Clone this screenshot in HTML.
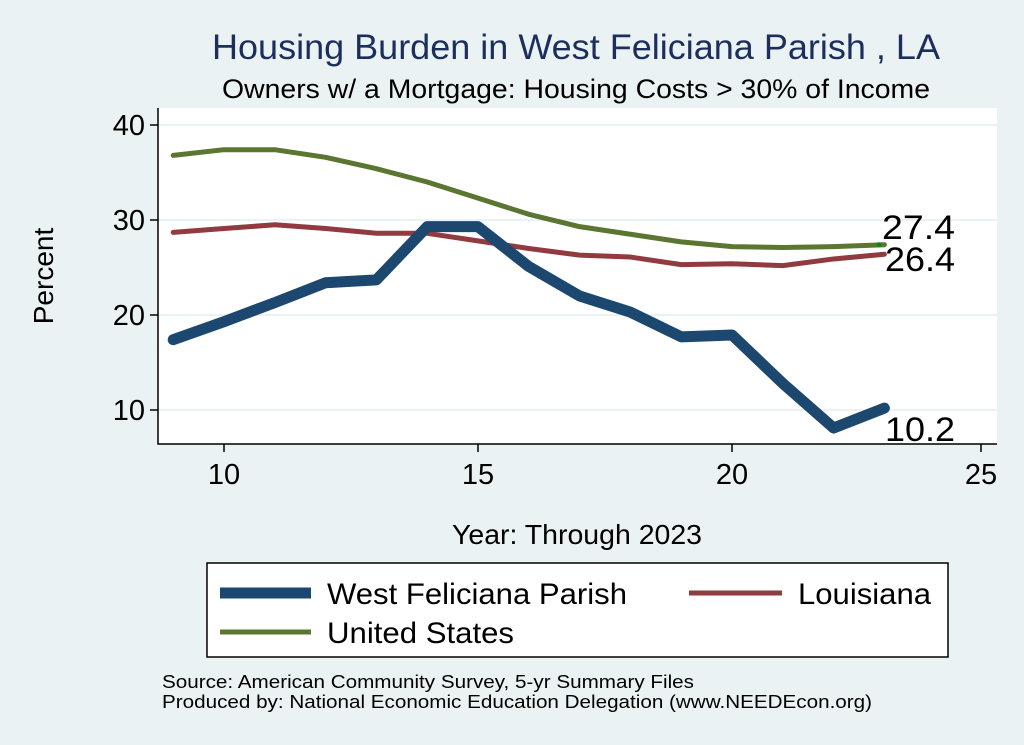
<!DOCTYPE html><html><head><style>body{margin:0;background:#eaf2f3}svg{display:block}text{font-family:"Liberation Sans",sans-serif}</style></head><body>
<svg width="1024" height="745" viewBox="0 0 1024 745">
<rect width="1024" height="745" fill="#eaf2f3"/>
<text x="576" y="59" font-size="35" fill="#1c2f5c" text-anchor="middle" textLength="728" lengthAdjust="spacingAndGlyphs">Housing Burden in West Feliciana Parish , LA</text>
<text x="576" y="98" font-size="27" fill="#000" text-anchor="middle" textLength="708" lengthAdjust="spacingAndGlyphs">Owners w/ a Mortgage: Housing Costs &gt; 30% of Income</text>
<rect x="158" y="108" width="839" height="336" fill="#fff"/>
<g stroke="#eaf2f3" stroke-width="2"><line x1="158" x2="997" y1="125" y2="125"/><line x1="158" x2="997" y1="220" y2="220"/><line x1="158" x2="997" y1="315" y2="315"/><line x1="158" x2="997" y1="410" y2="410"/></g>
<g stroke="#000" stroke-width="1.5" fill="none"><polyline points="158,108 158,444 997,444"/>
<line x1="150" x2="158" y1="125" y2="125"/><line x1="150" x2="158" y1="220" y2="220"/><line x1="150" x2="158" y1="315" y2="315"/><line x1="150" x2="158" y1="410" y2="410"/>
<line x1="224" x2="224" y1="444" y2="452"/><line x1="478" x2="478" y1="444" y2="452"/><line x1="732" x2="732" y1="444" y2="452"/><line x1="981" x2="981" y1="444" y2="452"/></g>
<g font-size="29" text-anchor="end"><text x="145" y="135">40</text><text x="145" y="230">30</text><text x="145" y="325">20</text><text x="145" y="420">10</text></g>
<g font-size="29" text-anchor="middle"><text x="224" y="484">10</text><text x="478" y="484">15</text><text x="732" y="484">20</text><text x="981" y="484">25</text></g>
<text transform="translate(53,276) rotate(-90)" font-size="28" text-anchor="middle">Percent</text>
<text x="577" y="544" font-size="28" text-anchor="middle" textLength="250" lengthAdjust="spacingAndGlyphs">Year: Through 2023</text>
<g fill="none" stroke-linejoin="round" stroke-linecap="round">
<polyline stroke="#5a7631" stroke-width="5" points="173.2,155.4 224,149.7 274.8,149.7 325.6,157.3 376.4,168.7 427.2,182 478,198.15 528.8,214.3 579.6,226.65 630.4,234.25 681.2,241.85 732,246.6 782.8,247.55 833.6,246.6 884.4,244.7"/>
<polyline stroke="#913a3f" stroke-width="5" points="173.2,232.35 224,228.55 274.8,224.75 325.6,228.55 376.4,233.3 427.2,233.3 478,240.9 528.8,248.5 579.6,255.15 630.4,257.05 681.2,264.65 732,263.7 782.8,265.6 833.6,258.95 884.4,254.2"/>
<polyline stroke="#1c4870" stroke-width="11" points="173.2,339.7 224,321.65 274.8,302.65 325.6,282.7 376.4,279.85 427.2,226.65 478,226.65 528.8,266.55 579.6,296 630.4,312.15 681.2,336.85 732,334.95 782.8,383.4 833.6,428.05 884.4,408.1"/>
</g>
<circle cx="879" cy="244.7" r="2.5" fill="#0a8a0a"/>
<g font-size="34"><text x="882" y="239" textLength="73" lengthAdjust="spacingAndGlyphs">27.4</text><text x="885" y="271" textLength="70" lengthAdjust="spacingAndGlyphs">26.4</text><text x="885" y="441" textLength="70" lengthAdjust="spacingAndGlyphs">10.2</text></g>
<rect x="207" y="563" width="741" height="94" fill="#fff" stroke="#000" stroke-width="1.5"/>
<line x1="220" x2="311" y1="593" y2="593" stroke="#1c4870" stroke-width="11"/>
<text x="327" y="604" font-size="30" textLength="300" lengthAdjust="spacingAndGlyphs">West Feliciana Parish</text>
<line x1="689" x2="782" y1="593" y2="593" stroke="#913a3f" stroke-width="5"/>
<text x="798" y="604" font-size="30" textLength="133" lengthAdjust="spacingAndGlyphs">Louisiana</text>
<line x1="220" x2="311" y1="632" y2="632" stroke="#5a7631" stroke-width="5"/>
<text x="327" y="643" font-size="30" textLength="187" lengthAdjust="spacingAndGlyphs">United States</text>
<text x="162" y="688" font-size="18" textLength="532" lengthAdjust="spacingAndGlyphs">Source: American Community Survey, 5-yr Summary Files</text>
<text x="162" y="708" font-size="18" textLength="710" lengthAdjust="spacingAndGlyphs">Produced by: National Economic Education Delegation (www.NEEDEcon.org)</text>
</svg></body></html>
